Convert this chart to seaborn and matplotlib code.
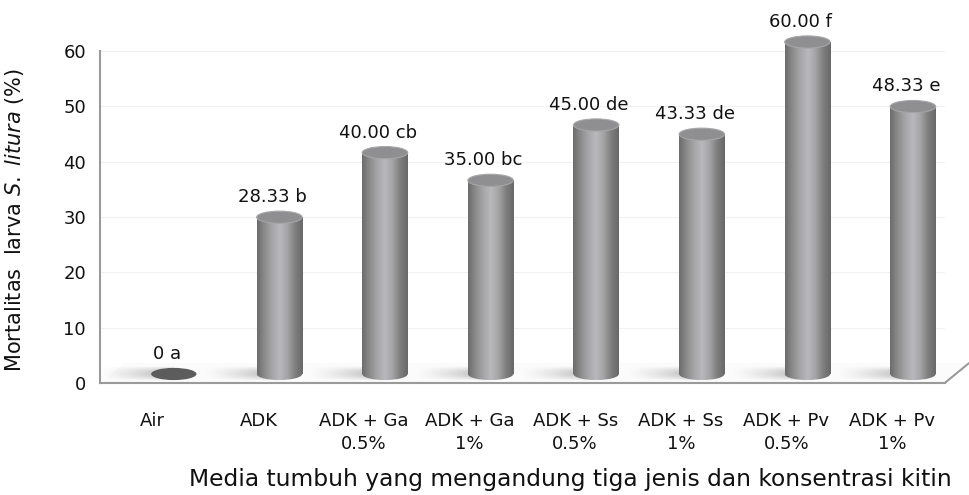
import numpy as np
import pandas as pd
import seaborn as sns
import matplotlib.pyplot as plt
from matplotlib import transforms
from matplotlib.patches import Ellipse, Polygon
from matplotlib.colors import LinearSegmentedColormap

sns.set_style("white")
plt.rcParams['font.family'] = ['DejaVu Sans']
plt.rcParams['mathtext.fontset'] = 'dejavusans'

media = ['Air', 'ADK', 'ADK + Ga\n0.5%', 'ADK + Ga\n1%', 'ADK + Ss\n0.5%',
         'ADK + Ss\n1%', 'ADK + Pv\n0.5%', 'ADK + Pv\n1%']
mortalitas = [0, 28.33, 40.00, 35.00, 45.00, 43.33, 60.00, 48.33]
notasi = ['0 a', '28.33 b', '40.00 cb', '35.00 bc', '45.00 de',
          '43.33 de', '60.00 f', '48.33 e']

df = pd.DataFrame({'media': media, 'mortalitas': mortalitas})

fig = plt.figure(figsize=(9.69, 4.95), dpi=100)
ax = fig.add_axes([0.1032, 0.2263, 0.8718, 0.6707])

sns.barplot(data=df, x='media', y='mortalitas', width=0.43, color='#999999',
            errorbar=None, ax=ax, zorder=3)

# fake 3D: everything on the floor is pushed right / up a bit
offset = transforms.ScaledTranslation(0.21, 0.09, fig.dpi_scale_trans)
trans = ax.transData + offset
cap = 2.2  # ellipse height (data units)

cyl = LinearSegmentedColormap.from_list(
    'cyl', ['#6c6c6c', '#8c8c8c', '#a6a6a8', '#b9b9bd', '#a4a4a6', '#7e7e7e', '#686868'])
grad = np.linspace(0, 1, 200).reshape(1, -1)

# shadow image: gray with alpha growing towards the bar
sh = np.zeros((20, 100, 4))
sh[..., :3] = 0.5
ramp = np.linspace(0, 1, 100) ** 1.3
vert = np.sin(np.linspace(0, np.pi, 20))[:, None]
sh[..., 3] = 0.6 * ramp[None, :] * vert

n = len(media)
# floor
ax.add_patch(Polygon([(-0.5, 0), (n - 0.5, 0), (n - 0.27, 3.6), (-0.27, 3.6)],
                     closed=True, fc='#fbfbfb', ec='none', zorder=1, clip_on=False))
ax.plot([n - 0.5, n - 0.27], [0, 3.6], color='#9a9a9a', lw=1.5, clip_on=False, zorder=2)

for p, txt in zip(list(ax.patches), notasi):
    x0, w, h = p.get_x(), p.get_width(), p.get_height()
    cx = x0 + w / 2
    p.set_visible(False)

    ax.imshow(sh, extent=(x0 - 0.5, cx, -cap * 0.6, cap * 0.6),
              aspect='auto', transform=trans, zorder=2, interpolation='bilinear')

    if h > 0:
        body = ax.imshow(grad, cmap=cyl, aspect='auto', extent=(x0, x0 + w, 0, h),
                         transform=trans, zorder=3, interpolation='bilinear')
        body.set_clip_on(False)
        base = ax.imshow(grad, cmap=cyl, aspect='auto',
                         extent=(x0, x0 + w, -cap / 2, 0.1),
                         transform=trans, zorder=3, interpolation='bilinear')
        base.set_clip_path(Ellipse((cx, 0), w, cap, transform=trans))
        ax.add_patch(Ellipse((cx, h), w, cap, transform=trans, fc='#8f8f91',
                             ec='#a6a6a8', lw=0.8, zorder=4, clip_on=False))
    else:
        ax.add_patch(Ellipse((cx, 0), w, cap, transform=trans, fc='#5c5c5c',
                             ec='none', zorder=4, clip_on=False))

    ax.annotate(txt, xy=(cx, h + cap / 2), xycoords=trans, xytext=(-7, 5),
                textcoords='offset pixels', ha='center', va='bottom',
                fontsize=13, color='#111111', annotation_clip=False)

ax.set_xlim(-0.5, n - 0.5)
ax.set_ylim(0, 60)
ax.set_yticks(range(0, 61, 10))
ax.set_xticks(np.arange(n))
ax.set_xticklabels(media, fontsize=13, color='#111111', linespacing=1.35)
ax.set_xticks(np.arange(n + 1) - 0.5, minor=True)
ax.tick_params(axis='x', which='major', length=0, pad=21)
ax.tick_params(axis='x', which='minor', length=6, width=1.5, color='#9a9a9a', direction='out')
ax.tick_params(axis='y', length=6, width=1.5, color='#9a9a9a', direction='out',
               labelsize=13, labelcolor='#111111', pad=4)

ax.yaxis.grid(True, color='#f1f1f1', lw=0.8)
ax.set_axisbelow(True)

sns.despine(ax=ax)
for s in ['left', 'bottom']:
    ax.spines[s].set_color('#9a9a9a')
    ax.spines[s].set_linewidth(1.5)

ax.set_ylabel(r'Mortalitas  larva $\it{S.\ litura}$ (%)', fontsize=15, color='#111111')
ax.yaxis.set_label_coords(-0.088, 0.49)
ax.set_xlabel('Media tumbuh yang mengandung tiga jenis dan konsentrasi kitin',
              fontsize=16.8, color='#111111')
ax.xaxis.set_label_coords(0.557, -0.29)
ax.xaxis.label.set_va('center')

plt.savefig('out.png', dpi=100)
plt.close()
